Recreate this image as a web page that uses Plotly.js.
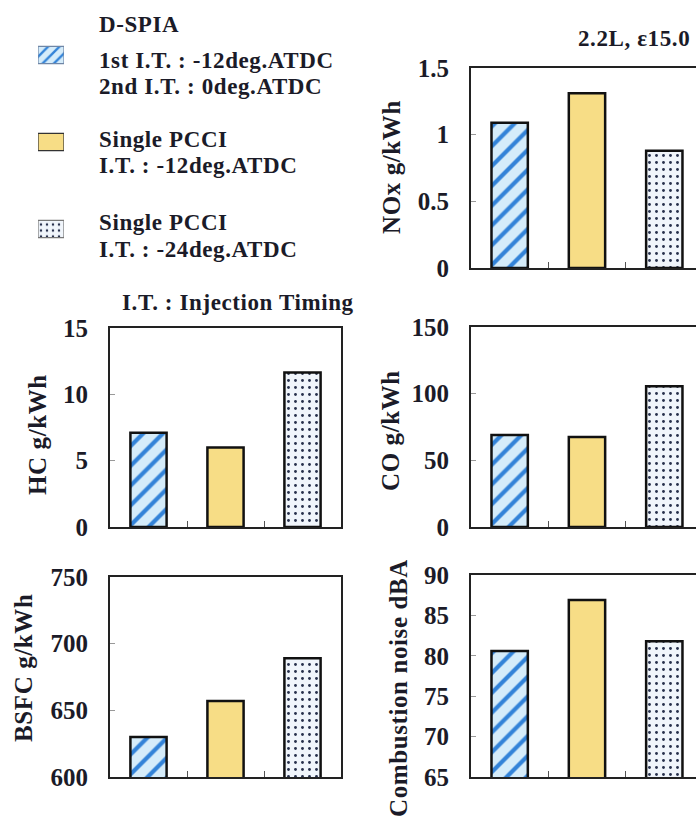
<!DOCTYPE html>
<html><head><meta charset="utf-8">
<script src="https://cdn.plot.ly/plotly-3.0.1.min.js"></script>
<style>
html,body{margin:0;padding:0;background:#fff}
.annotation-text{letter-spacing:0.6px}
</style>
</head><body><div id="chart" style="width:696px;height:821px"></div>
<script>
// ---- data ----
const categories = ['D-SPIA', 'Single PCCI -12deg', 'Single PCCI -24deg'];
const noxValues = [1.09, 1.31, 0.88];
const hcValues = [7.1, 6.0, 11.65];
const coValues = [69, 67.5, 105.5];
const bsfcValues = [630, 657, 689];
const noiseValues = [80.6, 86.9, 81.8];

const noxTicks = [0, 0.5, 1, 1.5];
const noxTickText = ['0', '0.5', '1', '1.5'];
const hcTicks = [0, 5, 10, 15];
const coTicks = [0, 50, 100, 150];
const bsfcTicks = [600, 650, 700, 750];
const noiseTicks = [65, 70, 75, 80, 85, 90];

const axisTitles = ['NOx g/kWh', 'HC g/kWh', 'CO g/kWh', 'BSFC g/kWh', 'Combustion noise dBA'];
const legendNames = ['D-SPIA', 'Single PCCI', 'Single PCCI'];
const legendDetails = [
  ['1st I.T. : -12deg.ATDC', '2nd I.T. : 0deg.ATDC'],
  ['I.T. : -12deg.ATDC'],
  ['I.T. : -24deg.ATDC']
];
const legendIconLength = [1];
const titleText = '2.2L, \u03b515.0';
const noteText = 'I.T. : Injection Timing';

// ---- style ----
const FONT = 'Liberation Serif, Times New Roman, serif';
const TXT = '#1b1b28';
const styles = [
  { shape: '/', bg: '#d5ecfa', fg: '#3383d8', size: 14, sol: 0.3, iconSize: 8, iconLine: '#6f86a6' },
  { shape: '',  bg: '#f7dd86', fg: '#f7dd86', size: 8, sol: 0.1, iconSize: 8, iconLine: '#333' },
  { shape: '.', bg: '#f0f5fb', fg: '#27304c', size: 7, sol: 0.13, iconSize: 6, iconLine: '#777' }
];
function pat(s, small) {
  return { shape: s.shape, bgcolor: s.bg, fgcolor: s.fg, fgopacity: 1,
           size: small ? s.iconSize : s.size, solidity: s.sol, fillmode: 'overlay' };
}
const traces = [];
function addPanel(vals, ax) {
  categories.forEach((c, i) => {
    traces.push({
      type: 'bar', x: [c], y: [vals[i]], xaxis: 'x' + ax, yaxis: 'y' + ax,
      width: 0.47, name: c,
      marker: { color: styles[i].bg, pattern: pat(styles[i], false), line: { color: '#111', width: 2.5 } },
      showlegend: false, hoverinfo: 'x+y'
    });
  });
}
addPanel(noxValues, '');
addPanel(hcValues, '2');
addPanel(coValues, '3');
addPanel(bsfcValues, '4');
addPanel(noiseValues, '5');
// legend icons
legendNames.forEach((n, i) => {
  traces.push({
    type: 'bar', orientation: 'h', y: [n + ' ' + i], x: legendIconLength,
    xaxis: 'x6', yaxis: 'y6', width: 0.2,
    marker: { color: styles[i].bg, pattern: pat(styles[i], true), line: { color: styles[i].iconLine, width: 1.2 } },
    showlegend: false, hoverinfo: 'skip'
  });
});

const H = 821, W = 696;
const yd = (top, bot) => [1 - bot / H, 1 - top / H];
const leftX = [110 / W, 341 / W], rightX = [471 / W, 1];

function xAx(dom, right, anchor) {
  return {
    domain: dom, anchor: anchor, type: 'category', categoryarray: categories, categoryorder: 'array',
    range: right ? [-0.5, 2.41] : [-0.5, 2.5],
    showline: true, linecolor: '#222', linewidth: 2, mirror: true,
    ticks: 'inside', tickson: 'boundaries', ticklen: 6, tickcolor: '#555', tickwidth: 1,
    showticklabels: false, showgrid: false, zeroline: false, fixedrange: true
  };
}
function yAx(dom, range, tv, tt, right, anchor) {
  return {
    domain: dom, anchor: anchor, range: range, tickvals: tv, ticktext: tt,
    showline: true, linecolor: '#222', linewidth: 2, mirror: !right,
    ticks: 'inside', ticklen: 5, tickcolor: '#999', tickwidth: 1,
    ticklabelstandoff: 15,
    tickfont: { family: FONT, size: 25, color: TXT, weight: 700 },
    showgrid: false, zeroline: false, fixedrange: true
  };
}

const annotations = [];
function ann(text, x, y, opts) {
  annotations.push(Object.assign({
    text: text, x: x / W, y: 1 - y / H, xref: 'paper', yref: 'paper',
    xanchor: 'left', yanchor: 'middle', showarrow: false,
    font: { family: FONT, size: 23, color: TXT, weight: 700 }
  }, opts || {}));
}
ann(legendNames[0], 97, 25);
ann(legendDetails[0][0], 97, 60);
ann(legendDetails[0][1], 97, 87);
ann(legendNames[1], 97, 139);
ann(legendDetails[1][0], 97, 165);
ann(legendNames[2], 97, 222);
ann(legendDetails[2][0], 97, 249);
ann(noteText, 120, 302);
ann(titleText, 634, 38, { xanchor: 'center' });
// axis titles
const titleFont = { family: FONT, size: 25, color: TXT, weight: 700 };
const titlePos = [[392, 167], [38, 435], [390, 430], [23, 668], [398, 688]];
axisTitles.forEach((t, i) => ann(t, titlePos[i][0], titlePos[i][1],
  { xanchor: 'center', textangle: -90, font: titleFont }));

const layout = {
  width: W, height: H, margin: { l: 0, r: 0, t: 0, b: 0 },
  paper_bgcolor: '#fff', plot_bgcolor: '#fff', barmode: 'overlay',
  xaxis: xAx(rightX, true, 'y'),
  yaxis: yAx(yd(68, 268), [0, 1.5], noxTicks, noxTickText, true, 'x'),
  xaxis2: xAx(leftX, false, 'y2'),
  yaxis2: yAx(yd(328, 527), [0, 15], hcTicks, hcTicks.map(String), false, 'x2'),
  xaxis3: xAx(rightX, true, 'y3'),
  yaxis3: yAx(yd(327, 527), [0, 150], coTicks, coTicks.map(String), true, 'x3'),
  xaxis4: xAx(leftX, false, 'y4'),
  yaxis4: yAx(yd(577, 777), [600, 750], bsfcTicks, bsfcTicks.map(String), false, 'x4'),
  xaxis5: xAx(rightX, true, 'y5'),
  yaxis5: yAx(yd(575, 777), [65, 90], noiseTicks, noiseTicks.map(String), true, 'x5'),
  xaxis6: { domain: [38 / W, 64 / W], anchor: 'y6', range: [0, 1], visible: false, fixedrange: true },
  yaxis6: { domain: yd(11.5, 272.5), anchor: 'x6', type: 'category', range: [2.5, -0.5], visible: false, fixedrange: true },
  annotations: annotations,
  showlegend: false
};

Plotly.newPlot('chart', traces, layout, { displayModeBar: false, staticPlot: true });
</script></body></html>
